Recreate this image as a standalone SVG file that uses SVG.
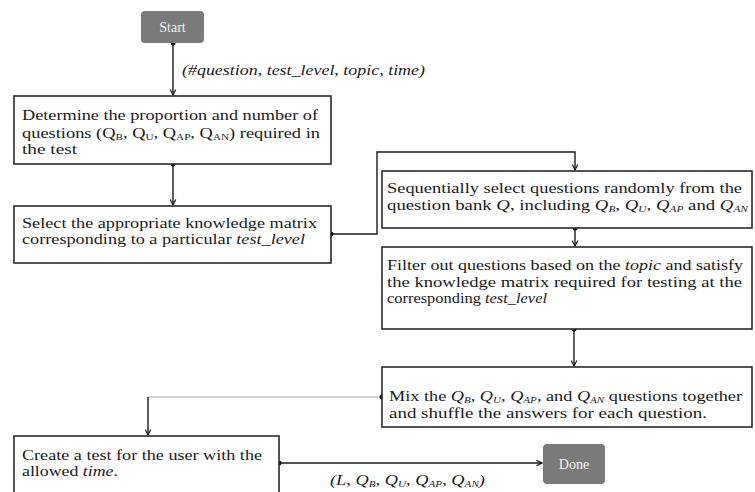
<svg xmlns="http://www.w3.org/2000/svg" width="755" height="492" viewBox="0 0 755 492">
  <defs>
    <marker id="arrow" viewBox="0 0 10 10" refX="9" refY="5" markerWidth="7" markerHeight="7" orient="auto-start-reverse" markerUnits="userSpaceOnUse">
      <path d="M1,1 L9,5 L1,9" fill="none" stroke="#111" stroke-width="1.6"/>
    </marker>
    <marker id="dot" viewBox="0 0 6 6" refX="3" refY="3" markerWidth="5" markerHeight="5" markerUnits="userSpaceOnUse">
      <circle cx="3" cy="3" r="3" fill="#111"/>
    </marker>
  </defs>
  <style>
    .box { fill: #fff; stroke: #2a2a2a; stroke-width: 1.6; }
    .term { fill: #7a7a7a; stroke: none; }
    .t { font-family: "Liberation Serif", "Times New Roman", serif; font-size: 14px; fill: #1a1a1a; }
    .it { font-style: italic; }
    .sub { font-size: 8.5px; }
    .tt { font-family: "Liberation Serif", "Times New Roman", serif; font-size: 14px; fill: #f2f2f2; text-anchor: middle; }
    .edge { fill: none; stroke: #1a1a1a; stroke-width: 1.4; }
    .edge-light { fill: none; stroke: #c4c4c4; stroke-width: 1.4; }
  </style>
  <rect width="755" height="492" fill="#fff"/>

  <!-- connectors -->
  <g id="connectors">
    <path class="edge" d="M173,43 V95" marker-start="url(#dot)" marker-end="url(#arrow)"/>
    <path class="edge" d="M173,164 V205" marker-start="url(#dot)" marker-end="url(#arrow)"/>
    <path class="edge" d="M331,234 H377 V152 H575 V170" marker-start="url(#dot)" marker-end="url(#arrow)"/>
    <path class="edge" d="M575,228 V246" marker-start="url(#dot)" marker-end="url(#arrow)"/>
    <path class="edge" d="M574,329 V366" marker-start="url(#dot)" marker-end="url(#arrow)"/>
    <path class="edge-light" d="M382,397 H148"/>
    <circle cx="382" cy="397" r="2.5" fill="#111"/>
    <path class="edge" d="M148,397 V435" marker-end="url(#arrow)"/>
    <path class="edge" d="M279,463 H542" marker-start="url(#dot)" marker-end="url(#arrow)"/>
    <text class="t it" x="182" y="75" textLength="243" lengthAdjust="spacingAndGlyphs">(#question, test_level, topic, time)</text>
    <text class="t it" x="330" y="485" textLength="155" lengthAdjust="spacingAndGlyphs">(L, Q<tspan class="sub" baseline-shift="-2">B</tspan>, Q<tspan class="sub" baseline-shift="-2">U</tspan>, Q<tspan class="sub" baseline-shift="-2">AP</tspan>, Q<tspan class="sub" baseline-shift="-2">AN</tspan>)</text>
  </g>

  <!-- Start -->
  <g id="start">
    <rect class="term" x="141" y="11" width="63" height="32" rx="4"/>
    <text class="tt" x="172.5" y="32">Start</text>
  </g>

  <!-- Step 1 -->
  <g id="proportion">
    <rect class="box" x="14" y="96" width="317" height="68"/>
    <text class="t" x="22" y="120" textLength="296" lengthAdjust="spacingAndGlyphs">Determine the proportion and number of</text>
    <text class="t" x="22" y="137.5" textLength="298" lengthAdjust="spacingAndGlyphs">questions (Q<tspan class="sub" baseline-shift="-2">B</tspan>, Q<tspan class="sub" baseline-shift="-2">U</tspan>, Q<tspan class="sub" baseline-shift="-2">AP</tspan>, Q<tspan class="sub" baseline-shift="-2">AN</tspan>) required in</text>
    <text class="t" x="22" y="154" textLength="55" lengthAdjust="spacingAndGlyphs">the test</text>
  </g>

  <!-- Step 2 -->
  <g id="matrix">
    <rect class="box" x="14" y="206" width="317" height="57"/>
    <text class="t" x="22" y="228" textLength="295" lengthAdjust="spacingAndGlyphs">Select the appropriate knowledge matrix</text>
    <text class="t" x="22" y="244" textLength="283" lengthAdjust="spacingAndGlyphs">corresponding to a particular <tspan class="it">test_level</tspan></text>
  </g>

  <!-- Step 3 -->
  <g id="select">
    <rect class="box" x="382" y="171" width="370" height="57"/>
    <text class="t" x="387" y="193" textLength="355" lengthAdjust="spacingAndGlyphs">Sequentially select questions randomly from the</text>
    <text class="t" x="387" y="210" textLength="361" lengthAdjust="spacingAndGlyphs">question bank <tspan class="it">Q</tspan>, including <tspan class="it">Q</tspan><tspan class="sub it" baseline-shift="-2">B</tspan>, <tspan class="it">Q</tspan><tspan class="sub it" baseline-shift="-2">U</tspan>, <tspan class="it">Q</tspan><tspan class="sub it" baseline-shift="-2">AP</tspan> and <tspan class="it">Q</tspan><tspan class="sub it" baseline-shift="-2">AN</tspan></text>
  </g>

  <!-- Step 4 -->
  <g id="filter">
    <rect class="box" x="382" y="247" width="370" height="82"/>
    <text class="t" x="387" y="270" textLength="356" lengthAdjust="spacingAndGlyphs">Filter out questions based on the <tspan class="it">topic</tspan> and satisfy</text>
    <text class="t" x="387" y="287" textLength="355" lengthAdjust="spacingAndGlyphs">the knowledge matrix required for testing at the</text>
    <text class="t" x="387" y="303" textLength="160" lengthAdjust="spacingAndGlyphs">corresponding <tspan class="it">test_level</tspan></text>
  </g>

  <!-- Step 5 -->
  <g id="mix">
    <rect class="box" x="382" y="367" width="370" height="60"/>
    <text class="t" x="389" y="401" textLength="353" lengthAdjust="spacingAndGlyphs">Mix the <tspan class="it">Q</tspan><tspan class="sub it" baseline-shift="-2">B</tspan>, <tspan class="it">Q</tspan><tspan class="sub it" baseline-shift="-2">U</tspan>, <tspan class="it">Q</tspan><tspan class="sub it" baseline-shift="-2">AP</tspan>, and <tspan class="it">Q</tspan><tspan class="sub it" baseline-shift="-2">AN</tspan> questions together</text>
    <text class="t" x="389" y="418" textLength="318" lengthAdjust="spacingAndGlyphs">and shuffle the answers for each question.</text>
  </g>

  <!-- Step 6 -->
  <g id="create">
    <rect class="box" x="14" y="436" width="265" height="70"/>
    <text class="t" x="22" y="460" textLength="240" lengthAdjust="spacingAndGlyphs">Create a test for the user with the</text>
    <text class="t" x="22" y="476" textLength="96" lengthAdjust="spacingAndGlyphs">allowed <tspan class="it">time</tspan>.</text>
  </g>

  <!-- Done -->
  <g id="done">
    <rect class="term" x="543" y="444" width="62" height="40" rx="4" fill="#8a8a8a"/>
    <text class="tt" x="574" y="469">Done</text>
  </g>
</svg>
